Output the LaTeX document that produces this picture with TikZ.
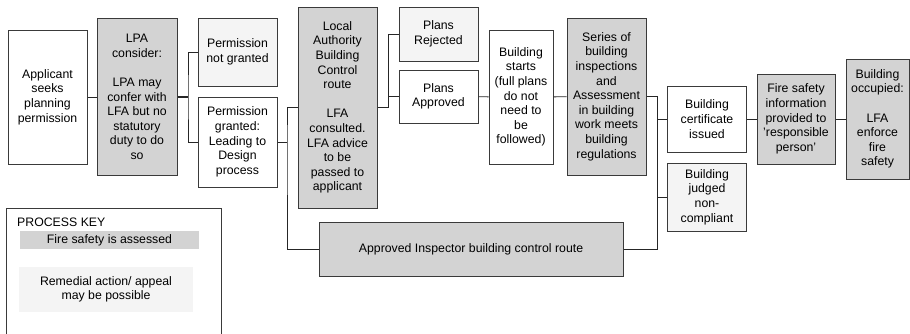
\documentclass[tikz,border=0pt]{standalone}
\usepackage{fontspec}
\setmainfont{Liberation Sans}
\usepackage{tikz}
\usetikzlibrary{arrows.meta}

\definecolor{assessgray}{HTML}{D3D3D3}
\definecolor{remedgray}{HTML}{F4F4F4}
\definecolor{edgegray}{HTML}{3A3A3A}

\newcommand{\boxfont}{\fontsize{12.3}{14.6}\selectfont}

\tikzset{
  box/.style={draw=edgegray,line width=1pt,fill=white,align=center,inner sep=0pt,font=\boxfont},
  assessed/.style={box,fill=assessgray},
  remedial/.style={box,fill=remedgray},
  link/.style={line width=0.9pt,draw=black!85},
  thicklink/.style={line width=1.8pt,draw=black!85}
}

\begin{document}
\begin{tikzpicture}[x=1pt,y=-1pt]
\useasboundingbox (0,0) rectangle (910,333);

% planning stage
\node[box,minimum width=79,minimum height=134] (appl) at (47.5,97) {Applicant\\seeks\\planning\\permission};
\node[assessed,minimum width=80,minimum height=157] (lpa) at (137,97) {LPA\\consider:\\[14.6pt]LPA may\\confer with\\LFA but no\\statutory\\duty to do\\so};
\node[remedial,minimum width=79,minimum height=68] (notgr) at (237.5,52) {Permission\\not granted};
\node[box,minimum width=79,minimum height=90] (granted) at (237.5,142) {Permission\\granted:\\Leading to\\Design\\process};

% building control
\node[assessed,minimum width=79,minimum height=201] (lacr) at (337.5,107.5) {Local\\Authority\\Building\\Control\\route\\[14.6pt]LFA\\consulted.\\LFA advice\\to be\\passed to\\applicant};
\node[remedial,minimum width=79,minimum height=54] (rej) at (438.5,34) {Plans\\Rejected};
\node[box,minimum width=79,minimum height=53] (appr) at (438.5,96.5) {Plans\\Approved};
\node[box,minimum width=64,minimum height=134] (start) at (521,97) {Building\\starts\\(full plans\\do not\\need to\\be\\followed)};
\node[assessed,minimum width=79,minimum height=157] (series) at (606.5,96.5) {Series of\\building\\inspections\\and\\Assessment\\in building\\work meets\\building\\regulations};
\node[assessed,minimum width=304,minimum height=54] (ai) at (471,249) {Approved Inspector building control route};

% completion
\node[box,minimum width=79,minimum height=66] (cert) at (707,119) {Building\\certificate\\issued};
\node[remedial,minimum width=79,minimum height=68] (noncomp) at (707,197) {Building\\judged\\non-\\compliant};
\node[assessed,minimum width=78,minimum height=90] (fsinfo) at (796,119) {Fire safety\\information\\provided to\\'responsible\\person'};
\node[assessed,minimum width=63,minimum height=120] (occ) at (877.5,119) {Building\\occupied:\\[14.6pt]LFA\\enforce\\fire\\safety};

% branch points
\coordinate (b1) at (188,97);
\coordinate (b2) at (287,142);
\coordinate (b3) at (388,107.5);
\coordinate (b4) at (657,96.5);

\draw[link] (appl) -- (lpa);
\draw[thicklink] (lpa.east) -- (b1);
\draw[link] (notgr.west) -| (b1) |- (granted.west);
\draw[link] (granted.east) -- (b2);
\draw[link] (lacr.west) -| (b2) |- (ai.west);
\draw[thicklink] (lacr.east) -- (b3);
\draw[link] (rej.west) -| (b3);
\draw[link] (appr.west) -- (appr.west -| b3);
\draw[link] (appr) -- (start);
\draw[link] (start) -- (series);
\draw[link] (series.east) -- (b4) |- (cert.west);
\draw[link] (b4) |- (noncomp.west);
\draw[link] (ai.east) -| (b4);
\draw[link] (cert) -- (fsinfo);
\draw[link] (fsinfo) -- (occ);

% process key
\node[box,anchor=north west,minimum width=215,minimum height=140] (key) at (6,208) {};
\node[anchor=west,inner sep=0pt,font=\boxfont] (keytitle) at (17,222) {PROCESS KEY};
\node[fill=assessgray,minimum width=179,minimum height=18,inner sep=0pt,font=\boxfont] (keyA) at (109.5,240) {Fire safety is assessed};
\node[fill=remedgray,minimum width=174,minimum height=45,inner sep=0pt,align=center,font=\boxfont] (keyR) at (106,289.5) {Remedial action/ appeal\\may be possible};
\end{tikzpicture}
\end{document}
